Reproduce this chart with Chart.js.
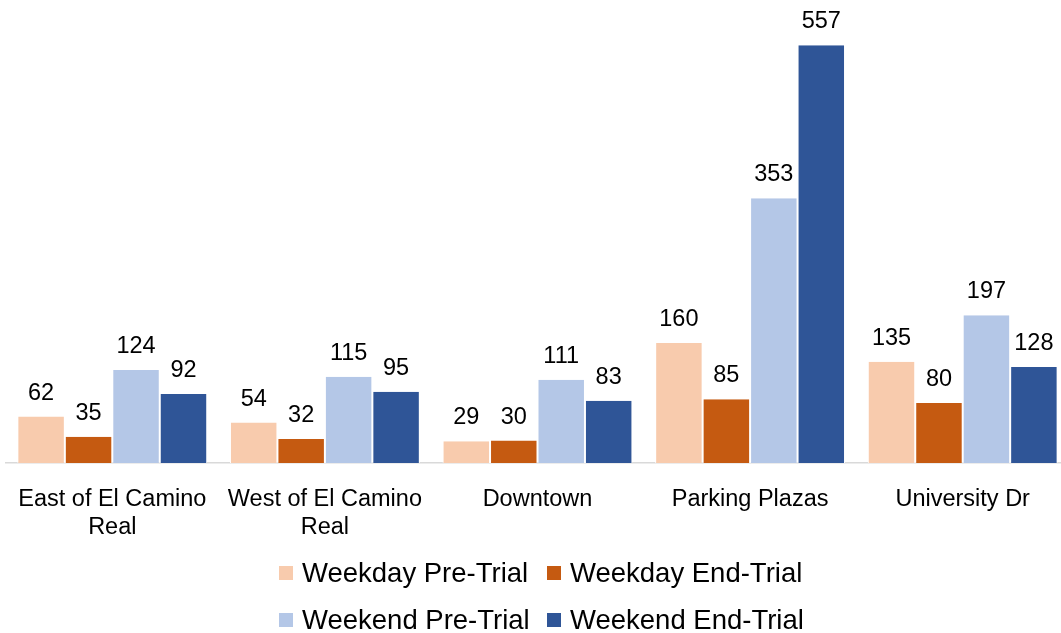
<!DOCTYPE html>
<html>
<head>
<meta charset="utf-8">
<title>Parking counts by area</title>
<script src="https://cdn.jsdelivr.net/npm/chart.js@4"></script>
<style>
    html, body { margin: 0; padding: 0; background: #fff; overflow: hidden; }
    #wrap { width: 1061px; height: 633px; overflow: hidden; }
    canvas { display: block; }
</style>
</head>
<body>
<div id="wrap">
    <canvas id="parkingChart" width="1070" height="633"></canvas>
</div>
<script>
// Areas and counts per survey period
const areas = [
    ['East of El Camino', 'Real'],
    ['West of El Camino', 'Real'],
    'Downtown',
    'Parking Plazas',
    'University Dr'
];
const weekdayPre = [62, 54, 29, 160, 135];
const weekdayEnd = [35, 32, 30, 85, 80];
const weekendPre = [124, 115, 111, 353, 197];
const weekendEnd = [92, 95, 83, 557, 128];

const seriesNames = ['Weekday Pre-Trial', 'Weekday End-Trial', 'Weekend Pre-Trial', 'Weekend End-Trial'];
const seriesColors = ['#F8CBAD', '#C55A11', '#B4C7E7', '#2F5597'];

const FONT = 'Arial, "Liberation Sans", sans-serif';

/**
 * Writes each bar's value just above it
 */
const valueLabels = {
    id: 'valueLabels',
    afterDatasetsDraw(chart) {
        const ctx = chart.ctx;
        ctx.save();
        ctx.font = `23.5px ${FONT}`;
        ctx.fillStyle = '#000';
        ctx.textAlign = 'center';
        ctx.textBaseline = 'alphabetic';
        chart.data.datasets.forEach((ds, i) => {
            chart.getDatasetMeta(i).data.forEach((bar, j) => {
                ctx.fillText(String(ds.data[j]), bar.x, bar.y - 17);
            });
        });
        ctx.restore();
    }
};

/**
 * Two-row legend under the axis labels
 */
const gridLegend = {
    id: 'gridLegend',
    afterDraw(chart) {
        const ctx = chart.ctx;
        const colX = [279, 547];
        const rowY = [566, 613];
        ctx.save();
        ctx.font = `27.5px ${FONT}`;
        ctx.textAlign = 'left';
        ctx.textBaseline = 'alphabetic';
        chart.data.datasets.forEach((ds, i) => {
            const x = colX[i % 2];
            const y = rowY[Math.floor(i / 2)];
            ctx.fillStyle = ds.backgroundColor;
            ctx.fillRect(x, y, 14, 14);
            ctx.fillStyle = '#000';
            ctx.fillText(ds.label, x + 23, y + 16);
        });
        ctx.restore();
    }
};

function initChart() {
    const canvas = document.getElementById('parkingChart');
    const values = [weekdayPre, weekdayEnd, weekendPre, weekendEnd];

    new Chart(canvas.getContext('2d'), {
        type: 'bar',
        data: {
            labels: areas,
            datasets: values.map((data, i) => ({
                label: seriesNames[i],
                data: data,
                backgroundColor: seriesColors[i],
                borderColor: '#fff',
                borderWidth: { left: 1, right: 1, top: 0, bottom: 0 },
                barPercentage: 1,
                categoryPercentage: 0.893
            }))
        },
        options: {
            responsive: false,
            animation: false,
            layout: { padding: { top: 13, left: 6, right: 1, bottom: 0 } },
            scales: {
                x: {
                    grid: { display: false },
                    border: { display: true, color: '#D9D9D9', width: 1.5 },
                    ticks: {
                        color: '#000',
                        padding: 14,
                        maxRotation: 0,
                        autoSkip: false,
                        font: { family: FONT, size: 23.5, lineHeight: 1.2 }
                    },
                    afterFit(scale) { scale.height = 170; }
                },
                y: {
                    display: false,
                    min: 0,
                    max: 600
                }
            },
            plugins: {
                legend: { display: false },
                tooltip: { enabled: false }
            }
        },
        plugins: [valueLabels, gridLegend]
    });
}

document.addEventListener('DOMContentLoaded', initChart);
</script>
</body>
</html>
